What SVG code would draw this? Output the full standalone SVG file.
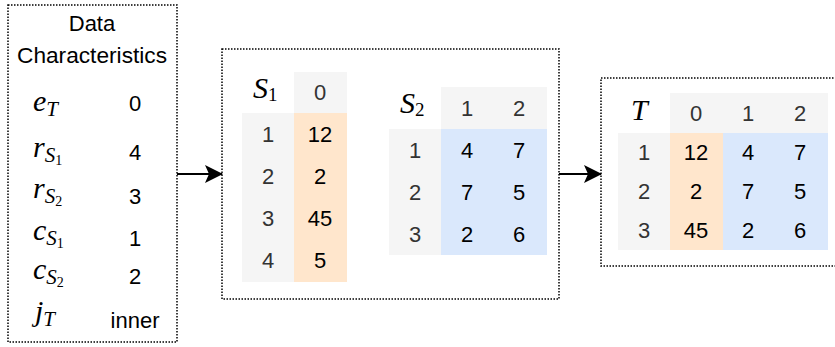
<svg xmlns="http://www.w3.org/2000/svg" width="835" height="347" viewBox="0 0 835 347">
<defs>
<style>
.box{fill:#fff;stroke:#000;stroke-width:1.5;stroke-dasharray:1.5 1.5}
.hd{fill:#f5f5f5}
.or{fill:#ffe6cc}
.bl{fill:#dae8fc}
.t{font-family:"Liberation Sans",Arial,sans-serif;font-size:22px;text-anchor:middle}
.g{fill:#333}
.k{fill:#000}
.m{font-family:"Liberation Serif","Times New Roman",serif;font-style:italic;font-size:30px;fill:#000}
.up{font-style:normal}
.conn{stroke:#000;stroke-width:2;fill:none}
</style>
<marker id="arr" viewBox="0 0 18 18" refX="17" refY="9" markerWidth="18" markerHeight="18" markerUnits="userSpaceOnUse" orient="auto">
<path d="M0,0 L18,9 L0,18 L4,9 Z" fill="#000"/>
</marker>
</defs>
<rect width="835" height="347" fill="#fff"/>

<g id="data-characteristics">
<rect class="box" x="8" y="5" width="169" height="337"/>
<text class="t k" x="92" y="31">Data</text>
<text class="t k" x="92" y="63" textLength="150" lengthAdjust="spacingAndGlyphs">Characteristics</text>
<text class="m" x="33" y="111">e<tspan font-size="21" dy="5">T</tspan></text>
<text class="t k" x="135" y="111">0</text>
<text class="m" x="33" y="157">r<tspan font-size="21" dy="5">S</tspan><tspan class="up" font-size="14" dy="3">1</tspan></text>
<text class="t k" x="135" y="160">4</text>
<text class="m" x="33" y="198">r<tspan font-size="21" dy="5">S</tspan><tspan class="up" font-size="14" dy="3">2</tspan></text>
<text class="t k" x="135" y="204">3</text>
<text class="m" x="33" y="240">c<tspan font-size="21" dy="5">S</tspan><tspan class="up" font-size="14" dy="3">1</tspan></text>
<text class="t k" x="135" y="246">1</text>
<text class="m" x="33" y="279">c<tspan font-size="21" dy="5">S</tspan><tspan class="up" font-size="14" dy="3">2</tspan></text>
<text class="t k" x="135" y="284">2</text>
<text class="m" x="35" y="321">j<tspan font-size="21" dy="5">T</tspan></text>
<text class="t k" x="135" y="328">inner</text>
</g>

<g id="sources">
<rect class="box" x="222" y="49" width="337" height="250"/>
<g id="table-s1">
<rect class="hd" x="294" y="72" width="53" height="41"/>
<rect class="hd" x="242" y="113" width="52" height="169"/>
<rect class="or" x="294" y="113" width="53" height="169"/>
<text class="m" x="253" y="98">S<tspan class="up" font-size="19" dy="3">1</tspan></text>
<text class="t g" x="320" y="100">0</text>
<text class="t g" x="268" y="142">1</text>
<text class="t g" x="268" y="184">2</text>
<text class="t g" x="268" y="226">3</text>
<text class="t g" x="268" y="268">4</text>
<text class="t k" x="320" y="142">12</text>
<text class="t k" x="320" y="184">2</text>
<text class="t k" x="320" y="226">45</text>
<text class="t k" x="320" y="268">5</text>
</g>
<g id="table-s2">
<rect class="hd" x="441" y="87" width="106" height="42"/>
<rect class="hd" x="389" y="129" width="52" height="126"/>
<rect class="bl" x="441" y="129" width="106" height="126"/>
<text class="m" x="400" y="113">S<tspan class="up" font-size="19" dy="3">2</tspan></text>
<text class="t g" x="467" y="116">1</text>
<text class="t g" x="519" y="116">2</text>
<text class="t g" x="415" y="158">1</text>
<text class="t g" x="415" y="200">2</text>
<text class="t g" x="415" y="242">3</text>
<text class="t k" x="467" y="158">4</text>
<text class="t k" x="519" y="158">7</text>
<text class="t k" x="467" y="200">7</text>
<text class="t k" x="519" y="200">5</text>
<text class="t k" x="467" y="242">2</text>
<text class="t k" x="519" y="242">6</text>
</g>
</g>

<g id="target">
<rect class="box" x="601" y="78" width="250" height="188"/>
<g id="table-t">
<rect class="hd" x="670" y="93" width="158" height="40"/>
<rect class="hd" x="618" y="133" width="52" height="117"/>
<rect class="or" x="670" y="133" width="53" height="117"/>
<rect class="bl" x="723" y="133" width="105" height="117"/>
<text class="m" x="631" y="120">T</text>
<text class="t g" x="696" y="121">0</text>
<text class="t g" x="748" y="121">1</text>
<text class="t g" x="800" y="121">2</text>
<text class="t g" x="644" y="160">1</text>
<text class="t g" x="644" y="199">2</text>
<text class="t g" x="644" y="238">3</text>
<text class="t k" x="696" y="160">12</text>
<text class="t k" x="696" y="199">2</text>
<text class="t k" x="696" y="238">45</text>
<text class="t k" x="748" y="160">4</text>
<text class="t k" x="748" y="199">7</text>
<text class="t k" x="748" y="238">2</text>
<text class="t k" x="800" y="160">7</text>
<text class="t k" x="800" y="199">5</text>
<text class="t k" x="800" y="238">6</text>
</g>
</g>

<g id="connectors">
<line class="conn" x1="177" y1="174" x2="222" y2="174" marker-end="url(#arr)"/>
<line class="conn" x1="559" y1="174" x2="601" y2="174" marker-end="url(#arr)"/>
</g>
</svg>
